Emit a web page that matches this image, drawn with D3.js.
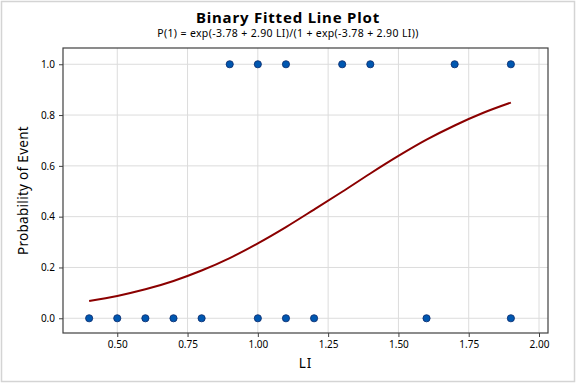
<!DOCTYPE html>
<html><head><meta charset="utf-8">
<script src="https://cdn.jsdelivr.net/npm/d3@7"></script>
<style>body{margin:0;background:#fff}svg{display:block}text{font-family:"Noto Sans","Open Sans",sans-serif;fill:#000}</style>
</head><body><svg id="c" width="576" height="384"></svg>
<script>
const xTicks = [0.5, 0.75, 1.0, 1.25, 1.5, 1.75, 2.0];
const yTicks = [0.0, 0.2, 0.4, 0.6, 0.8, 1.0];
const eventX = [0.9, 1.0, 1.1, 1.3, 1.4, 1.7, 1.9];
const noEventX = [0.4, 0.5, 0.6, 0.7, 0.8, 1.0, 1.1, 1.2, 1.6, 1.9];
const fitX = [0.4, 0.5, 0.6, 0.7, 0.8, 0.9, 1.0, 1.1, 1.2, 1.3, 1.4, 1.5, 1.6, 1.7, 1.8, 1.9];
const fitP = [0.068, 0.088, 0.114, 0.147, 0.188, 0.237, 0.295, 0.359, 0.428, 0.498, 0.570, 0.639, 0.703, 0.759, 0.808, 0.849];

const svg = d3.select("#c");
const L = 63, R = 548, T = 48, B = 333;
const x = d3.scaleLinear().domain([0.307, 2.032]).range([L, R]);
const y = d3.scaleLinear().domain([-0.058, 1.064]).range([B, T]);

svg.append("rect").attr("x",1.5).attr("y",1.5).attr("width",573).attr("height",380)
  .attr("fill","none").attr("stroke","#d4d4d4").attr("stroke-width",1.5);

// grid
svg.append("g").selectAll("line").data(xTicks).join("line")
  .attr("x1",d=>x(d)).attr("x2",d=>x(d)).attr("y1",T).attr("y2",B)
  .attr("stroke","#dcdcdc").attr("stroke-width",1);
svg.append("g").selectAll("line").data(yTicks).join("line")
  .attr("x1",L).attr("x2",R).attr("y1",d=>y(d)).attr("y2",d=>y(d))
  .attr("stroke","#dcdcdc").attr("stroke-width",1);

// axes
const xa = svg.append("g").attr("transform",`translate(0,${B})`)
  .call(d3.axisBottom(x).tickValues(xTicks).tickFormat(d3.format(".2f")).tickSize(4).tickPadding(4));
const ya = svg.append("g").attr("transform",`translate(${L},0)`)
  .call(d3.axisLeft(y).tickValues(yTicks).tickFormat(d3.format(".1f")).tickSize(4).tickPadding(4));
[xa, ya].forEach(a => {
  a.select(".domain").remove();
  a.selectAll("line").attr("stroke","#404040");
  a.selectAll("text").style("font-size","10px").attr("fill","#000");
});

svg.append("rect").attr("x",L).attr("y",T).attr("width",R-L).attr("height",B-T)
  .attr("fill","none").attr("stroke","#404040").attr("stroke-width",1.2);

// curve
const line = d3.line().x((d,i)=>x(fitX[i])).y(d=>y(d)).curve(d3.curveCatmullRom);
svg.append("path").attr("d", line(fitP)).attr("fill","none")
  .attr("stroke","#8b0000").attr("stroke-width",2);

// points
const pts = eventX.map(v=>[v,1]).concat(noEventX.map(v=>[v,0]));
svg.append("g").selectAll("circle").data(pts).join("circle")
  .attr("cx",d=>x(d[0])).attr("cy",d=>y(d[1])).attr("r",3.6)
  .attr("fill","#0057b0").attr("stroke","#0b2a6b").attr("stroke-width",0.8);

// titles
svg.append("text").attr("x",288).attr("y",23).attr("text-anchor","middle")
  .style("font-size","15px").style("font-weight","bold").style("letter-spacing","0.8px")
  .text("Binary Fitted Line Plot");
svg.append("text").attr("x",288).attr("y",36.5).attr("text-anchor","middle")
  .style("font-size","10.5px").style("letter-spacing","0.35px")
  .text("P(1) = exp(-3.78 + 2.90 LI)/(1 + exp(-3.78 + 2.90 LI))");
svg.append("text").attr("x",(L+R)/2).attr("y",368).attr("text-anchor","middle")
  .style("font-size","13.5px").style("letter-spacing","1px").text("LI");
svg.append("text").attr("transform",`translate(28,${(T+B)/2}) rotate(-90)`).attr("text-anchor","middle")
  .style("font-size","13.5px").style("letter-spacing","0.3px").text("Probability of Event");
</script></body></html>
